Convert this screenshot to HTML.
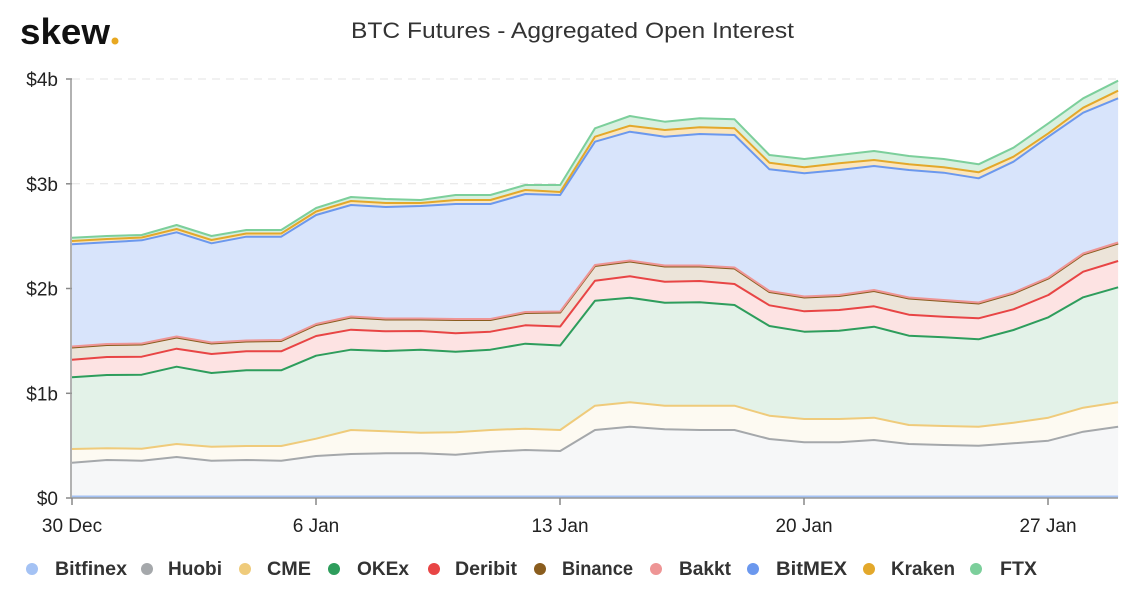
<!DOCTYPE html>
<html><head><meta charset="utf-8"><style>
body{margin:0;background:#fff;width:1140px;height:600px;overflow:hidden;font-family:"Liberation Sans",sans-serif}
</style></head><body>
<svg id="c" width="1140" height="600" xmlns="http://www.w3.org/2000/svg" font-family="Liberation Sans, sans-serif">
<text x="20" y="44" font-size="36" font-weight="bold" fill="#111" textLength="90" lengthAdjust="spacingAndGlyphs">skew</text><circle cx="115" cy="41" r="3.5" fill="#e8a821"/>
<text x="351" y="38" font-size="22" fill="#333" textLength="443" lengthAdjust="spacingAndGlyphs">BTC Futures - Aggregated Open Interest</text>
<g id="grid"></g><g id="areas"></g><g id="lines"></g><g id="axes"></g><g id="leg"></g>
</svg>
<script>
var NS="http://www.w3.org/2000/svg";
function el(t,a,p){var e=document.createElementNS(NS,t);for(var k in a)e.setAttribute(k,a[k]);if(p)p.appendChild(e);return e;}
var X=[];for(var i=0;i<31;i++)X.push(72+34.87*i);
var bf=[];for(i=0;i<31;i++)bf.push(496.5);
var hu=[462.7,460,460.7,457,460.7,460,460.7,456,454,453.3,453.3,454.7,451.7,450,451,430,426.7,429.3,430,430,439,442.3,442.3,440,444,445,445.7,443.3,440.7,431.7,426.7];
var cme=[449,448.3,448.7,444,446.7,446,446,438.7,430,431.3,432.7,432.3,430,428.7,430,405.7,402.3,405.7,405.7,405.7,415.7,419,419,417.7,425,426,426.7,422.7,417.7,407.7,402.3];
var ok=[377.3,375,374.7,366.7,373,370.3,370.3,355.7,349.7,351,349.7,351.7,349.7,343.7,345.5,300.7,297.7,302.7,302.3,305,326,331.7,330.7,326.7,335.7,337.3,339.3,330,317.3,297.3,287.3];
var de=[359.7,357,356.7,348.7,354,351.3,351.3,336,329.7,331.3,331,333.3,331.7,325.3,326.5,280.7,276.3,281.7,281,284,305.3,311.3,310,306.3,314.7,316.7,318.3,309.3,295,271.7,261];
var bn=[347.5,345,344.5,337.5,343.5,341.5,341,325,317.5,319.5,319.5,320,320,313,312.5,266,261.5,266.5,266.5,268.5,292,297.5,296,291,298.5,301,303.5,293.5,278.5,254.5,243.5];
var bk=bn.map(function(v){return v-1;});
var bm=[244.3,242.3,240.3,232.3,243.3,236.7,236.7,215,205,207,206,204,204,194,195,141.7,131.7,136.7,134,135,169.3,173.3,170,166,170,172.7,178.3,161.7,136.7,112.7,98.3];
var kr=[241,239,237.5,229,240,233.5,233.5,211.5,201,203,203,200,200,190,192,136.7,125.7,130,127.3,128.3,162.7,167.3,163.3,160,164.3,167.3,172.3,156.7,133.3,107.7,90.7];
var ft=[237.7,236,235,225,236,230,230,208,197,199,200,195,195,185,185,128.3,116,121.7,118.3,119.3,155,159,155,151,156,159,164.3,147.7,123.3,98.3,80.7];
var S=[["Bitfinex","#a4c2f4",bf,"#eef3fd"],["Huobi","#a5a8ab",hu,"#f6f7f8"],["CME","#efcb7b",cme,"#fdfaf2"],["OKEx","#2e9d5c",ok,"#e3f2e8"],["Deribit","#e84545",de,"#fde3e3"],["Binance","#8a5d1e",bn,"#ece4d9"],["Bakkt","#ee9595",bk,"#f3d7d7"],["BitMEX","#6b98ee",bm,"#d8e4fb"],["Kraken","#e3a82b",kr,"#fbe6bd"],["FTX","#7ccf9b",ft,"#d8f0e0"]];
var g=document.getElementById("grid"),A=document.getElementById("areas"),L=document.getElementById("lines"),ax=document.getElementById("axes"),lg=document.getElementById("leg");
[["$0",498],["$1b",393.3],["$2b",288.5],["$3b",183.8],["$4b",79]].forEach(function(t){
 if(t[1]<490)el("line",{x1:72,x2:1118,y1:t[1],y2:t[1],stroke:"#e3e3e3","stroke-dasharray":"8,6"},g);
 el("line",{x1:66,x2:72,y1:t[1],y2:t[1],stroke:"#888","stroke-width":1.5},ax);
 var tx=el("text",{x:58,y:t[1]+7,"font-size":19,"text-anchor":"end",fill:"#222"},ax);tx.textContent=t[0];});
function pts(a){return a.map(function(v,i){return X[i].toFixed(1)+","+v;}).join(" ");}
var prev=null;
S.forEach(function(s,k){
 var lower=prev||bf.map(function(){return 498;});
 var d="M"+pts(s[2]).split(" ").join(" L");
 for(var i=30;i>=0;i--)d+=" L"+X[i].toFixed(1)+","+lower[i];
 el("path",{d:d+"Z",fill:s[3],stroke:"none"},A);
 el("polyline",{points:pts(s[2]),fill:"none",stroke:s[1],"stroke-width":2,"stroke-linejoin":"round"},L);
 prev=s[2];});
el("line",{x1:71,x2:71,y1:79,y2:498,stroke:"#999","stroke-width":1.5},ax);
el("line",{x1:71,x2:1118,y1:498,y2:498,stroke:"#999","stroke-width":1.5},ax);
[["30 Dec",72],["6 Jan",316],["13 Jan",560],["20 Jan",804],["27 Jan",1048]].forEach(function(t){
 el("line",{x1:t[1],x2:t[1],y1:498,y2:505,stroke:"#888","stroke-width":1.5},ax);
 var tx=el("text",{x:t[1],y:532,"font-size":19,"text-anchor":"middle",fill:"#222"},ax);tx.textContent=t[0];});
var LG=[[32,55,127],[147,168,222],[245,267,311],[334,357,409],[434,455,517],[540,562,633],[656,679,731],[753,776,847],[869,891,955],[976,1000,1037]];
S.forEach(function(s,k){
 var p=LG[k];
 el("circle",{cx:p[0],cy:569,r:6,fill:s[1]},lg);
 var tx=el("text",{x:p[1],y:575,"font-size":19,"font-weight":"bold",fill:"#333",textLength:p[2]-p[1],lengthAdjust:"spacingAndGlyphs"},lg);tx.textContent=s[0];});
</script>
</body></html>
